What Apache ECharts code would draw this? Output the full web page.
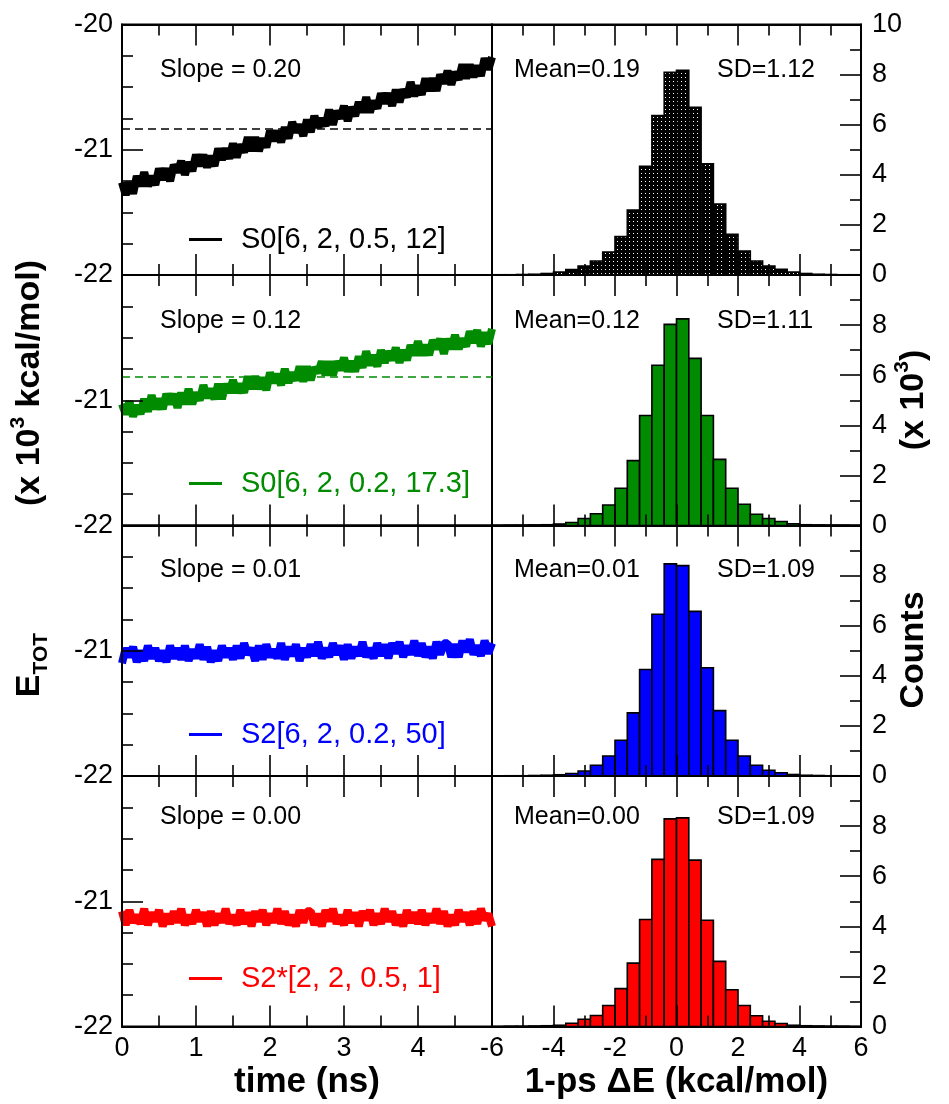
<!DOCTYPE html>
<html>
<head>
<meta charset="utf-8">
<script src="https://cdn.jsdelivr.net/npm/echarts@6.0.0/dist/echarts.min.js"></script>
<style>
html,body{margin:0;padding:0;background:#fff;}
#chart{width:949px;height:1104px;}
</style>
</head>
<body>
<div id="chart"></div>
<script>
// ---------------- DATA ----------------
const timeNs = [0,0.05,0.1,0.15,0.2,0.25,0.3,0.35,0.4,0.45,
0.5,0.55,0.6,0.65,0.7,0.75,0.8,0.85,0.9,0.95,
1,1.05,1.1,1.15,1.2,1.25,1.3,1.35,1.4,1.45,
1.5,1.55,1.6,1.65,1.7,1.75,1.8,1.85,1.9,1.95,
2,2.05,2.1,2.15,2.2,2.25,2.3,2.35,2.4,2.45,
2.5,2.55,2.6,2.65,2.7,2.75,2.8,2.85,2.9,2.95,
3,3.05,3.1,3.15,3.2,3.25,3.3,3.35,3.4,3.45,
3.5,3.55,3.6,3.65,3.7,3.75,3.8,3.85,3.9,3.95,
4,4.05,4.1,4.15,4.2,4.25,4.3,4.35,4.4,4.45,
4.5,4.55,4.6,4.65,4.7,4.75,4.8,4.85,4.9,4.95,5];

// E_TOT (x 10^3 kcal/mol)
const etotS0a = [-21.26,-21.36,-21.26,-21.35,-21.21,-21.29,-21.18,-21.29,-21.21,-21.28,
-21.15,-21.24,-21.15,-21.25,-21.12,-21.18,-21.09,-21.20,-21.10,-21.17,
-21.04,-21.13,-21.04,-21.14,-21.05,-21.13,-20.99,-21.08,-20.99,-21.07,
-20.95,-21.06,-20.96,-21.02,-20.90,-21.01,-20.90,-21.01,-20.91,-20.98,
-20.85,-20.93,-20.85,-20.94,-20.82,-20.91,-20.78,-20.86,-20.80,-20.89,
-20.76,-20.86,-20.73,-20.82,-20.75,-20.81,-20.68,-20.80,-20.69,-20.75,
-20.65,-20.77,-20.66,-20.73,-20.62,-20.70,-20.58,-20.70,-20.61,-20.67,
-20.55,-20.63,-20.55,-20.65,-20.52,-20.62,-20.52,-20.58,-20.46,-20.57,
-20.49,-20.56,-20.43,-20.53,-20.43,-20.53,-20.40,-20.47,-20.37,-20.48,
-20.38,-20.44,-20.32,-20.43,-20.32,-20.42,-20.33,-20.41,-20.27,-20.36,-20.26];

const etotS0b = [-21.03,-21.11,-21.01,-21.13,-21.04,-21.11,-20.99,-21.09,-20.96,-21.07,
-20.99,-21.07,-20.95,-21.03,-20.95,-21.06,-20.94,-21.03,-20.91,-21.03,
-20.94,-21.00,-20.88,-20.98,-20.91,-20.99,-20.87,-20.99,-20.87,-20.94,
-20.84,-20.94,-20.87,-20.94,-20.81,-20.91,-20.81,-20.91,-20.82,-20.92,
-20.78,-20.86,-20.79,-20.88,-20.75,-20.86,-20.78,-20.84,-20.73,-20.85,
-20.73,-20.84,-20.74,-20.78,-20.69,-20.80,-20.69,-20.80,-20.69,-20.76,
-20.66,-20.77,-20.69,-20.77,-20.65,-20.74,-20.61,-20.72,-20.64,-20.73,
-20.60,-20.70,-20.61,-20.68,-20.58,-20.70,-20.60,-20.68,-20.56,-20.64,
-20.53,-20.64,-20.56,-20.64,-20.52,-20.59,-20.51,-20.63,-20.51,-20.59,
-20.48,-20.59,-20.51,-20.57,-20.45,-20.54,-20.44,-20.57,-20.46,-20.55,-20.43];

const etotS2 = [-21.10,-20.98,-21.05,-20.97,-21.09,-21.00,-21.08,-20.96,-21.06,-20.98,
-21.08,-21.00,-21.09,-20.96,-21.06,-20.98,-21.07,-20.96,-21.08,-20.99,
-21.06,-20.95,-21.07,-20.97,-21.09,-21.00,-21.08,-20.96,-21.05,-20.98,
-21.07,-20.96,-21.06,-20.94,-21.03,-20.98,-21.08,-20.96,-21.07,-20.95,
-21.05,-20.99,-21.06,-20.94,-21.07,-20.97,-21.04,-20.95,-21.08,-20.98,
-21.05,-20.95,-21.04,-20.93,-21.06,-20.98,-21.05,-20.94,-21.03,-20.96,
-21.07,-20.95,-21.06,-20.97,-21.04,-20.93,-21.05,-20.98,-21.06,-20.94,
-21.04,-20.95,-21.06,-20.94,-21.02,-20.93,-21.05,-20.96,-21.03,-20.92,
-21.04,-20.94,-21.05,-20.97,-21.06,-20.93,-21.03,-20.94,-20.94,-21.05,
-20.95,-21.05,-20.92,-21.01,-20.91,-21.03,-20.96,-21.04,-20.92,-21.02,-20.94];

const etotS2star = [-21.08,-21.19,-21.07,-21.17,-21.11,-21.18,-21.06,-21.19,-21.09,-21.16,
-21.07,-21.20,-21.10,-21.18,-21.08,-21.17,-21.06,-21.19,-21.11,-21.18,
-21.07,-21.16,-21.09,-21.20,-21.08,-21.19,-21.10,-21.17,-21.06,-21.18,
-21.11,-21.19,-21.07,-21.18,-21.09,-21.20,-21.08,-21.16,-21.07,-21.19,
-21.10,-21.17,-21.06,-21.18,-21.08,-21.19,-21.11,-21.20,-21.07,-21.17,
-21.08,-21.08,-21.19,-21.10,-21.20,-21.07,-21.16,-21.06,-21.18,-21.11,
-21.19,-21.07,-21.17,-21.09,-21.20,-21.08,-21.15,-21.07,-21.19,-21.10,
-21.18,-21.06,-21.16,-21.08,-21.19,-21.11,-21.20,-21.07,-21.17,-21.09,
-21.18,-21.07,-21.19,-21.10,-21.17,-21.06,-21.18,-21.08,-21.20,-21.11,
-21.19,-21.07,-21.16,-21.09,-21.19,-21.08,-21.18,-21.06,-21.15,-21.10,-21.20];

// dashed mean lines (only first two runs)
const meanLines = [-20.83, -20.81, null, null];

// 1-ps dE histogram: bin edges (kcal/mol) and counts (x 10^3)
const binEdges = [-6.0,-5.6,-5.2,-4.8,-4.4,-4.0,-3.6,-3.2,-2.8,-2.4,-2.0,-1.6,-1.2,-0.8,-0.4,
0.0,0.4,0.8,1.2,1.6,2.0,2.4,2.8,3.2,3.6,4.0,4.4,4.8,5.2,5.6,6.0];
const countsS0a = [0.01,0.01,0.02,0.03,0.06,0.12,0.22,0.36,0.56,0.92,1.53,2.59,4.34,6.37,8.09,
8.17,6.69,4.44,2.83,1.62,0.96,0.56,0.36,0.23,0.12,0.06,0.03,0.02,0.01,0.01];
const countsS0b = [0.00,0.01,0.01,0.02,0.03,0.06,0.12,0.28,0.47,0.82,1.49,2.59,4.39,6.40,8.03,
8.25,6.67,4.39,2.64,1.49,0.85,0.45,0.28,0.16,0.07,0.03,0.02,0.01,0.01,0.00];
const countsS2 = [0.00,0.01,0.01,0.02,0.03,0.05,0.10,0.20,0.43,0.80,1.43,2.52,4.25,6.46,8.47,
8.40,6.57,4.32,2.61,1.43,0.80,0.43,0.23,0.13,0.06,0.03,0.02,0.01,0.01,0.00];
const countsS2star = [0.00,0.01,0.01,0.02,0.03,0.05,0.13,0.29,0.44,0.84,1.51,2.53,4.27,6.67,8.29,
8.33,6.64,4.24,2.60,1.47,0.84,0.43,0.21,0.12,0.05,0.03,0.02,0.01,0.01,0.00];

const runNames = ['S0[6, 2, 0.5, 12]', 'S0[6, 2, 0.2, 17.3]', 'S2[6, 2, 0.2, 50]', 'S2*[2, 2, 0.5, 1]'];
const slopeLabels = ['0.20', '0.12', '0.01', '0.00'];
const meanLabels = ['0.19', '0.12', '0.01', '0.00'];
const sdLabels = ['1.12', '1.11', '1.09', '1.09'];
const etotRuns = [etotS0a, etotS0b, etotS2, etotS2star];
const countRuns = [countsS0a, countsS0b, countsS2, countsS2star];

// ---------------- STYLE / LAYOUT ----------------
const COLORS = ['#000000', '#008b00', '#0000ff', '#ff0000'];
const FONT = '"Liberation Sans", Arial, Helvetica, sans-serif';
const TOPS = [24.5, 275, 525.5, 776];
const H = 250.5;
const LEFT_L = 122, W_L = 370, LEFT_R = 492, W_R = 369;
const ANN_Y = [70, 321, 570, 817];
const LEG_Y = [238, 482, 733, 977];

// dotted pattern for the first histogram
const pat = document.createElement('canvas');
pat.width = 4; pat.height = 4;
(function () {
  const c = pat.getContext('2d');
  c.fillStyle = '#000'; c.fillRect(0, 0, 4, 4);
  c.fillStyle = '#fff'; c.fillRect(1, 1, 1, 1);
})();

const tickLine = { color: '#000', width: 1.6 };
const axisLine = { show: true, onZero: false, lineStyle: { color: '#000', width: 2 } };

function xAxisCfg(grid, pos, min, max, interval, showLabel, fmt, name) {
  const a = {
    type: 'value', gridIndex: grid, position: pos, min: min, max: max, interval: interval, z: 10,
    axisLine: axisLine,
    axisTick: { show: true, inside: true, length: 21, lineStyle: tickLine },
    minorTick: { show: true, splitNumber: 2, length: 11, lineStyle: tickLine },
    splitLine: { show: false }, minorSplitLine: { show: false },
    axisLabel: { show: showLabel, color: '#000', fontSize: 27, fontFamily: FONT, margin: 9, formatter: fmt }
  };
  if (name) {
    a.name = name; a.nameLocation = 'middle'; a.nameGap = 38;
    a.nameTextStyle = { color: '#000', fontSize: 35, fontWeight: 'bold', fontFamily: FONT };
  }
  return a;
}

const grids = [], xAxes = [], yAxes = [], series = [], legends = [], graphics = [];

for (let r = 0; r < 4; r++) {
  grids.push({ left: LEFT_L, top: TOPS[r], width: W_L, height: H, show: true, borderColor: '#000', borderWidth: 2, backgroundColor: 'transparent' });
  grids.push({ left: LEFT_R, top: TOPS[r], width: W_R, height: H, show: true, borderColor: '#000', borderWidth: 2, backgroundColor: 'transparent' });
  const gL = 2 * r, gR = 2 * r + 1;
  const last = r === 3;
  xAxes.push(xAxisCfg(gL, 'bottom', 0, 5, 1, last, v => (v === 5 ? '' : String(v)), last ? 'time (ns)' : null));
  xAxes.push(xAxisCfg(gL, 'top', 0, 5, 1, false));
  xAxes.push(xAxisCfg(gR, 'bottom', -6, 6, 2, last, v => String(v), last ? '1-ps \u0394E (kcal/mol)' : null));
  xAxes.push(xAxisCfg(gR, 'top', -6, 6, 2, false));

  yAxes.push({
    type: 'value', gridIndex: gL, position: 'left', min: -22, max: -20, interval: 1, z: 10,
    axisLine: axisLine,
    axisTick: { show: true, inside: true, length: 21, lineStyle: tickLine },
    minorTick: { show: true, splitNumber: 4, length: 11, lineStyle: tickLine },
    splitLine: { show: false },
    axisLabel: { color: '#000', fontSize: 27, fontFamily: FONT, margin: 9,
      formatter: v => (r > 0 && v === -20 ? '' : String(v)) }
  });
  yAxes.push({
    type: 'value', gridIndex: gR, position: 'right', min: 0, max: 10, interval: 2, z: 10,
    axisLine: axisLine,
    axisTick: { show: true, inside: true, length: 21, lineStyle: tickLine },
    minorTick: { show: true, splitNumber: 2, length: 11, lineStyle: tickLine },
    splitLine: { show: false },
    axisLabel: { color: '#000', fontSize: 27, fontFamily: FONT, margin: 11,
      formatter: v => (r > 0 && v === 10 ? '' : String(v)) }
  });

  const col = COLORS[r];
  const lineSeries = {
    type: 'line', name: runNames[r], xAxisIndex: 4 * r, yAxisIndex: 2 * r,
    data: timeNs.map((t, i) => [t, etotRuns[r][i]]),
    symbol: 'none', lineStyle: { color: col, width: 8, join: 'bevel' }, itemStyle: { color: col },
    z: 3
  };
  if (meanLines[r] !== null) {
    lineSeries.markLine = {
      symbol: ['none', 'none'], silent: true, label: { show: false }, z: 2,
      lineStyle: { color: col, type: [8, 5], width: 1.5 },
      data: [{ yAxis: meanLines[r] }]
    };
  }
  series.push(lineSeries);

  const fill = r === 0 ? { image: pat, repeat: 'repeat' } : col;
  series.push({
    type: 'custom', xAxisIndex: 4 * r + 2, yAxisIndex: 2 * r + 1,
    data: countRuns[r].map((c, k) => [binEdges[k], binEdges[k + 1], c]),
    encode: { x: [0, 1], y: 2 },
    renderItem: function (params, api) {
      const p0 = api.coord([api.value(0), 0]);
      const p1 = api.coord([api.value(1), api.value(2)]);
      return {
        type: 'rect',
        shape: { x: p0[0], y: p1[1], width: p1[0] - p0[0], height: p0[1] - p1[1] },
        style: { fill: fill, stroke: '#000', lineWidth: 1.6 }
      };
    },
    z: 2
  });

  legends.push({
    show: true, data: [runNames[r]], left: 184, top: LEG_Y[r] - 18, orient: 'horizontal',
    icon: 'rect', itemWidth: 33, itemHeight: 3, selectedMode: false,
    formatter: name => '{t|' + name + '}',
    textStyle: { rich: { t: { color: col, fontSize: 29, fontFamily: FONT, padding: [0, 0, 0, 14] } } }
  });

  graphics.push({ type: 'text', x: 160, y: ANN_Y[r], style: { text: 'Slope = ' + slopeLabels[r], fill: '#000', fontSize: 25, fontFamily: FONT, verticalAlign: 'middle' } });
  graphics.push({ type: 'text', x: 514, y: ANN_Y[r], style: { text: 'Mean=' + meanLabels[r], fill: '#000', fontSize: 25, fontFamily: FONT, verticalAlign: 'middle' } });
  graphics.push({ type: 'text', x: 717, y: ANN_Y[r], style: { text: 'SD=' + sdLabels[r], fill: '#000', fontSize: 25, fontFamily: FONT, verticalAlign: 'middle' } });
}

const titleRich = {
  b: { fontSize: 34, fontWeight: 'bold', fontFamily: FONT, fill: '#000', lineHeight: 44 },
  sup: { fontSize: 21, fontWeight: 'bold', fontFamily: FONT, fill: '#000', verticalAlign: 'top', lineHeight: 44 },
  sub: { fontSize: 21, fontWeight: 'bold', fontFamily: FONT, fill: '#000', verticalAlign: 'bottom', lineHeight: 44 }
};
function vTitle(x, y, text) {
  return { type: 'text', x: x, y: y, rotation: Math.PI / 2,
    style: { text: text, align: 'center', verticalAlign: 'middle', rich: titleRich } };
}
graphics.push(vTitle(30, 383, '{b|(x 10}{sup|3}{b| kcal/mol)}'));
graphics.push(vTitle(30, 665, '{b|E}{sub|TOT}'));
graphics.push(vTitle(914, 400, '{b|(x 10}{sup|3}{b|)}'));
graphics.push(vTitle(914, 650, '{b|Counts}'));

const chart = echarts.init(document.getElementById('chart'), null, { renderer: 'canvas' });
chart.setOption({
  animation: false,
  backgroundColor: '#ffffff',
  grid: grids, xAxis: xAxes, yAxis: yAxes, series: series, legend: legends, graphic: graphics
});
</script>
</body>
</html>
